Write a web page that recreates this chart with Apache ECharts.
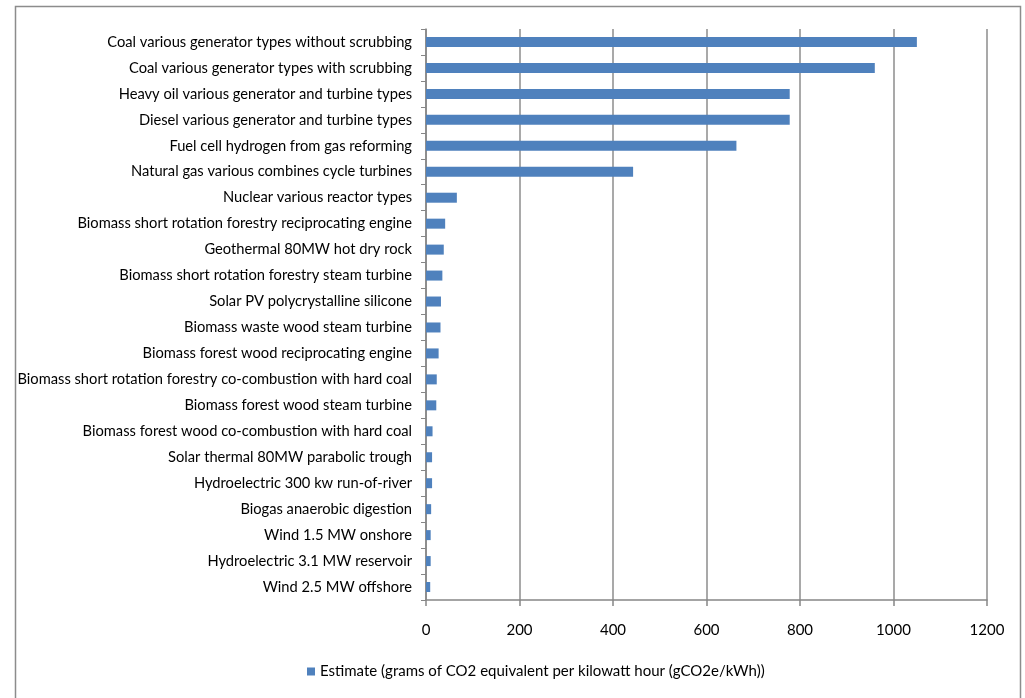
<!DOCTYPE html>
<html><head><meta charset="utf-8">
<script src="https://cdn.jsdelivr.net/npm/echarts@6/dist/echarts.min.js"></script>
<style>html,body{margin:0;padding:0;background:#fff}#c{width:1025px;height:698px}</style>
</head><body><div id="c"></div>
<script>
const categories = [
"Coal various generator types without scrubbing",
"Coal various generator types with scrubbing",
"Heavy oil various generator and turbine types",
"Diesel various generator and turbine types",
"Fuel cell hydrogen from gas reforming",
"Natural gas various combines cycle turbines",
"Nuclear various reactor types",
"Biomass short rotation forestry reciprocating engine",
"Geothermal 80MW hot dry rock",
"Biomass short rotation forestry steam turbine",
"Solar PV polycrystalline silicone",
"Biomass waste wood steam turbine",
"Biomass forest wood reciprocating engine",
"Biomass short rotation forestry co-combustion with hard coal",
"Biomass forest wood steam turbine",
"Biomass forest wood co-combustion with hard coal",
"Solar thermal 80MW parabolic trough",
"Hydroelectric 300 kw run-of-river",
"Biogas anaerobic digestion",
"Wind 1.5 MW onshore",
"Hydroelectric 3.1 MW reservoir",
"Wind 2.5 MW offshore"
];
const values = [1050,960,778,778,664,443,66,41,38,35,32,31,27,23,22,14,13,13,11,10,10,9];
const seriesName = "Estimate (grams of CO2 equivalent per kilowatt hour (gCO2e/kWh))";
const FONT = "Lato,sans-serif";
const chart = echarts.init(document.getElementById('c'), null, {renderer:'canvas'});
chart.setOption({
  animation:false,
  graphic:[{type:'rect',shape:{x:15.5,y:6.5,width:1005,height:720},style:{fill:'none',stroke:'#8c8c8c',lineWidth:1.5},silent:true,z:-1}],
  grid:{left:426,right:38,top:29,bottom:98,containLabel:false,outerBoundsMode:'none'},
  legend:{left:302,top:659,itemWidth:8,itemHeight:8,itemGap:6,icon:'rect',
    textStyle:{fontFamily:FONT,fontSize:15,color:'#000'}},
  xAxis:{type:'value',min:0,max:1200,interval:200,
    axisLine:{show:true,lineStyle:{color:'#868686',width:1.5}},
    axisTick:{show:true,length:6,lineStyle:{color:'#868686',width:1.5}},
    axisLabel:{margin:23,fontFamily:FONT,fontSize:15,color:'#000',formatter:v=>String(v)},
    splitLine:{show:true,lineStyle:{color:'#8c8c8c',width:1.5}}},
  yAxis:{type:'category',inverse:true,data:categories,
    axisLine:{show:true,lineStyle:{color:'#868686',width:1.5}},
    axisTick:{show:true,length:5,lineStyle:{color:'#868686',width:1}},
    axisLabel:{margin:14,fontFamily:FONT,fontSize:14.7,color:'#000'}},
  series:[{name:seriesName,type:'bar',data:values,barWidth:10,
    itemStyle:{color:'#4F81BD'}}]
});
</script></body></html>
